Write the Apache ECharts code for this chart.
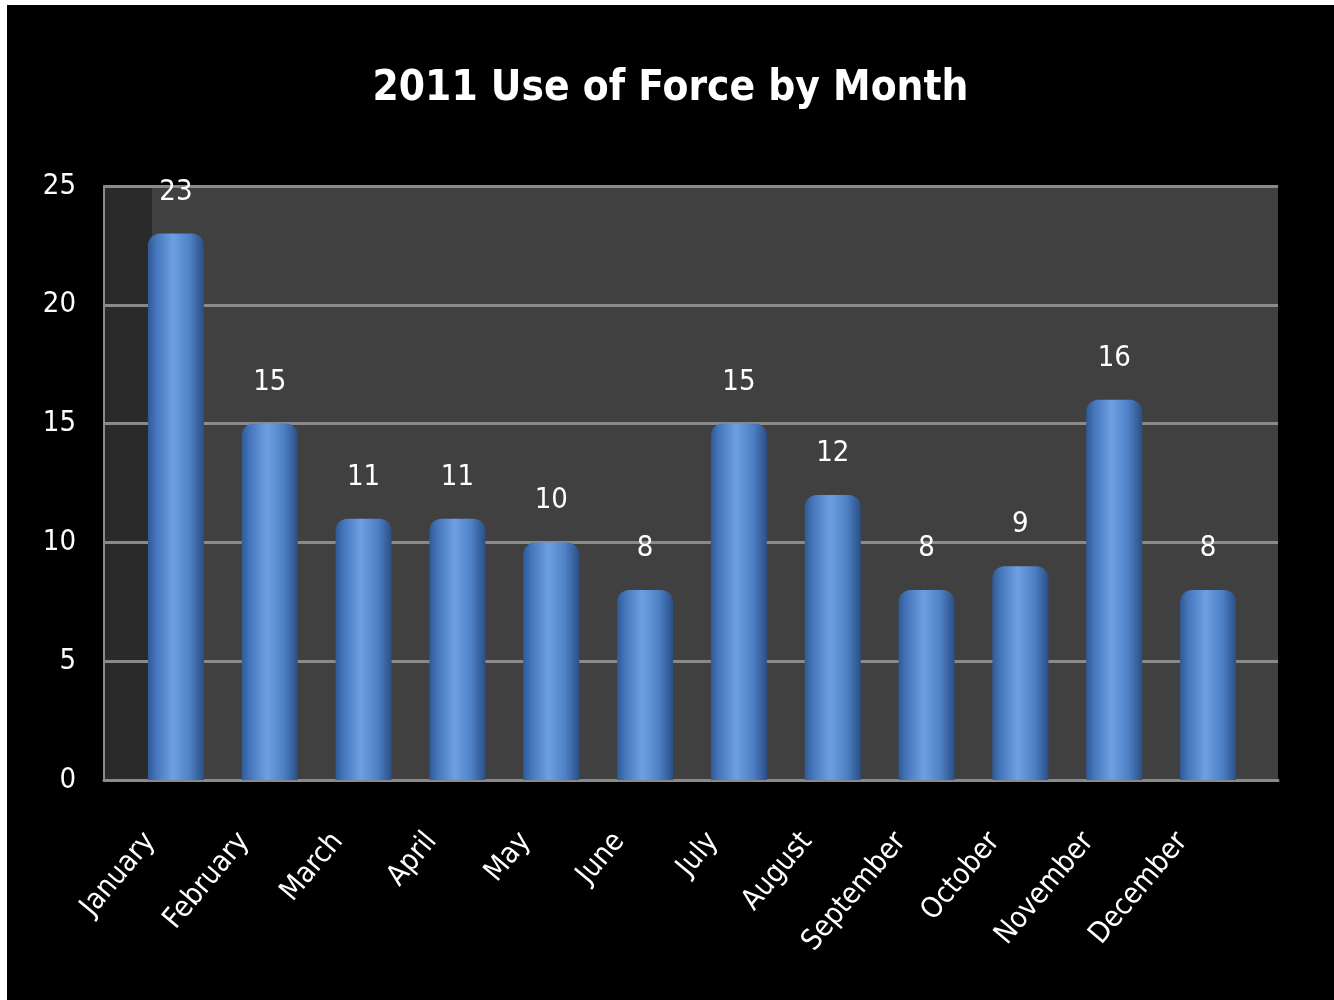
<!DOCTYPE html>
<html>
<head>
<meta charset="utf-8">
<title>2011 Use of Force by Month</title>
<script src="https://cdn.jsdelivr.net/npm/echarts@6/dist/echarts.min.js"></script>
<style>
    html, body {
        margin: 0;
        padding: 0;
        background: #ffffff;
    }
    #chart {
        position: absolute;
        left: 7px;
        top: 5px;
        width: 1327px;
        height: 995px;
        background: #000000;
    }
</style>
</head>
<body>
<div id="chart"></div>
<script>
    // data
    var months = ['January', 'February', 'March', 'April', 'May', 'June',
        'July', 'August', 'September', 'October', 'November', 'December'];
    var counts = [23, 15, 11, 11, 10, 8, 15, 12, 8, 9, 16, 8];
    var yTicks = [0, 5, 10, 15, 20, 25];

    var font = '"Liberation Sans Narrow", "DejaVu Sans Condensed", "Open Sans", sans-serif';
    var gray = '#8a8a8a';

    var chart = echarts.init(document.getElementById('chart'));
    chart.setOption({
        backgroundColor: '#000000',
        title: {
            text: '2011 Use of Force by Month',
            left: 'center',
            top: 58,
            textStyle: {
                color: '#ffffff',
                fontFamily: font,
                fontWeight: 'bold',
                fontSize: 42
            }
        },
        // the back wall and the bar area
        grid: [
            { left: 97, right: 56, top: 181, bottom: 220, show: true, backgroundColor: '#404040', borderWidth: 0 },
            { left: 122, right: 79, top: 181, bottom: 220 }
        ],
        // darker side wall on the left
        graphic: [{
            type: 'rect',
            z: 0.5,
            shape: { x: 97, y: 181, width: 48, height: 594 },
            style: { fill: '#2a2a2a' }
        }],
        xAxis: [
            {
                gridIndex: 0,
                type: 'category',
                data: months,
                axisLine: { show: true, lineStyle: { color: gray, width: 3 } },
                axisTick: { show: false },
                axisLabel: { show: false },
                z: 1
            },
            {
                gridIndex: 1,
                type: 'category',
                data: months,
                axisLine: { show: false },
                axisTick: { show: false },
                axisLabel: {
                    rotate: 50,
                    margin: 26,
                    padding: [0, 40, 0, 0],
                    color: '#ffffff',
                    fontFamily: font,
                    fontSize: 29,
                    interval: 0
                }
            }
        ],
        yAxis: [
            {
                gridIndex: 0,
                type: 'value',
                min: yTicks[0],
                max: yTicks[yTicks.length - 1],
                interval: 5,
                z: 1,
                axisLine: { show: true, lineStyle: { color: gray, width: 2 } },
                axisTick: { show: false },
                axisLabel: {
                    margin: 28,
                    color: '#ffffff',
                    fontFamily: font,
                    fontSize: 29
                },
                splitLine: { show: true, lineStyle: { color: gray, width: 3 } }
            },
            {
                gridIndex: 1,
                type: 'value',
                min: yTicks[0],
                max: yTicks[yTicks.length - 1],
                show: false
            }
        ],
        series: [{
            name: 'Use of Force',
            type: 'bar',
            xAxisIndex: 1,
            yAxisIndex: 1,
            barWidth: 56,
            z: 3,
            data: counts,
            itemStyle: {
                borderRadius: [12, 12, 0, 0],
                color: {
                    type: 'linear', x: 0, y: 0, x2: 1, y2: 0,
                    colorStops: [
                        { offset: 0, color: '#2f5a96' },
                        { offset: 0.15, color: '#4677bd' },
                        { offset: 0.45, color: '#6d9fe2' },
                        { offset: 0.75, color: '#4e80c6' },
                        { offset: 1, color: '#2a4f86' }
                    ]
                }
            },
            label: {
                show: true,
                position: 'top',
                distance: 27,
                color: '#ffffff',
                fontFamily: font,
                fontSize: 29
            }
        }]
    });
</script>
</body>
</html>
